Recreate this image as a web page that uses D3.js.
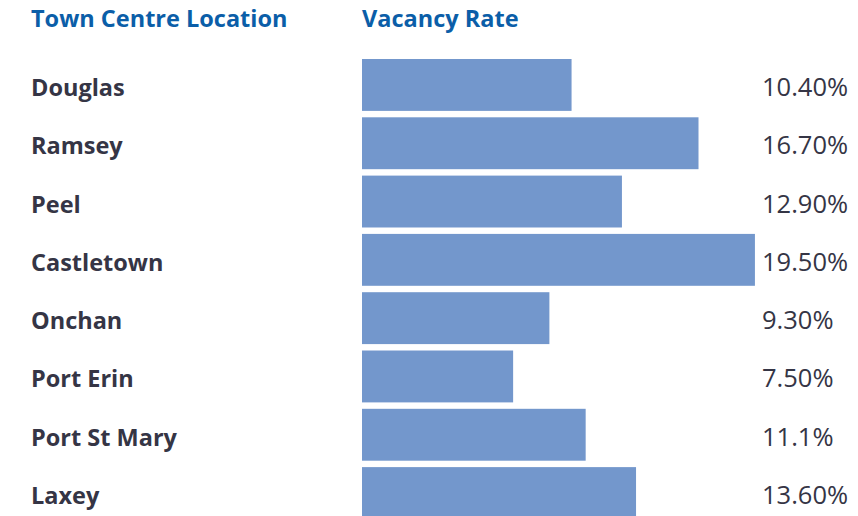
<!DOCTYPE html>
<html><head><meta charset="utf-8">
<script src="https://cdn.jsdelivr.net/npm/d3@7"></script>
<style>body{margin:0;background:#fff;}svg{display:block;}</style>
</head><body>
<svg id="chart" width="858" height="516"></svg>
<script>
const categories = ["Douglas","Ramsey","Peel","Castletown","Onchan","Port Erin","Port St Mary","Laxey"];
const values = [10.4,16.7,12.9,19.5,9.3,7.5,11.1,13.6];
const valueLabels = ["10.40%","16.70%","12.90%","19.50%","9.30%","7.50%","11.1%","13.60%"];
const headers = ["Town Centre Location","Vacancy Rate"];

const svg = d3.select("#chart");
const font = "'Open Sans', 'Noto Sans', sans-serif";
const x = d3.scaleLinear().domain([0, 20]).range([362, 765]);
const y = d3.scaleBand().domain(categories).range([59, 519]).paddingInner(0.11).paddingOuter(0);

svg.append("text").attr("x",31).attr("y",27).text(headers[0])
  .attr("font-family",font).attr("font-weight",700).attr("font-size",23.5).attr("fill","#0b5ea8");
svg.append("text").attr("x",362).attr("y",27).text(headers[1])
  .attr("font-family",font).attr("font-weight",700).attr("font-size",23.5).attr("fill","#0b5ea8");

svg.selectAll("rect.bar").data(categories).join("rect").attr("class","bar")
  .attr("x", x(0)).attr("y", d=>y(d)).attr("height", y.bandwidth())
  .attr("width", (d,i)=>x(values[i])-x(0)).attr("fill","#7397cc");

svg.selectAll("text.cat").data(categories).join("text").attr("class","cat")
  .attr("x",31).attr("y",d=>y(d)+y.bandwidth()/2+11).text(d=>d)
  .attr("font-family",font).attr("font-weight",700).attr("font-size",23.5).attr("fill","#353545");

svg.selectAll("text.val").data(categories).join("text").attr("class","val")
  .attr("x",762).attr("y",d=>y(d)+y.bandwidth()/2+11).text((d,i)=>valueLabels[i])
  .attr("font-family",font).attr("font-weight",400).attr("font-size",25.5).attr("fill","#353545");
</script>
</body></html>
